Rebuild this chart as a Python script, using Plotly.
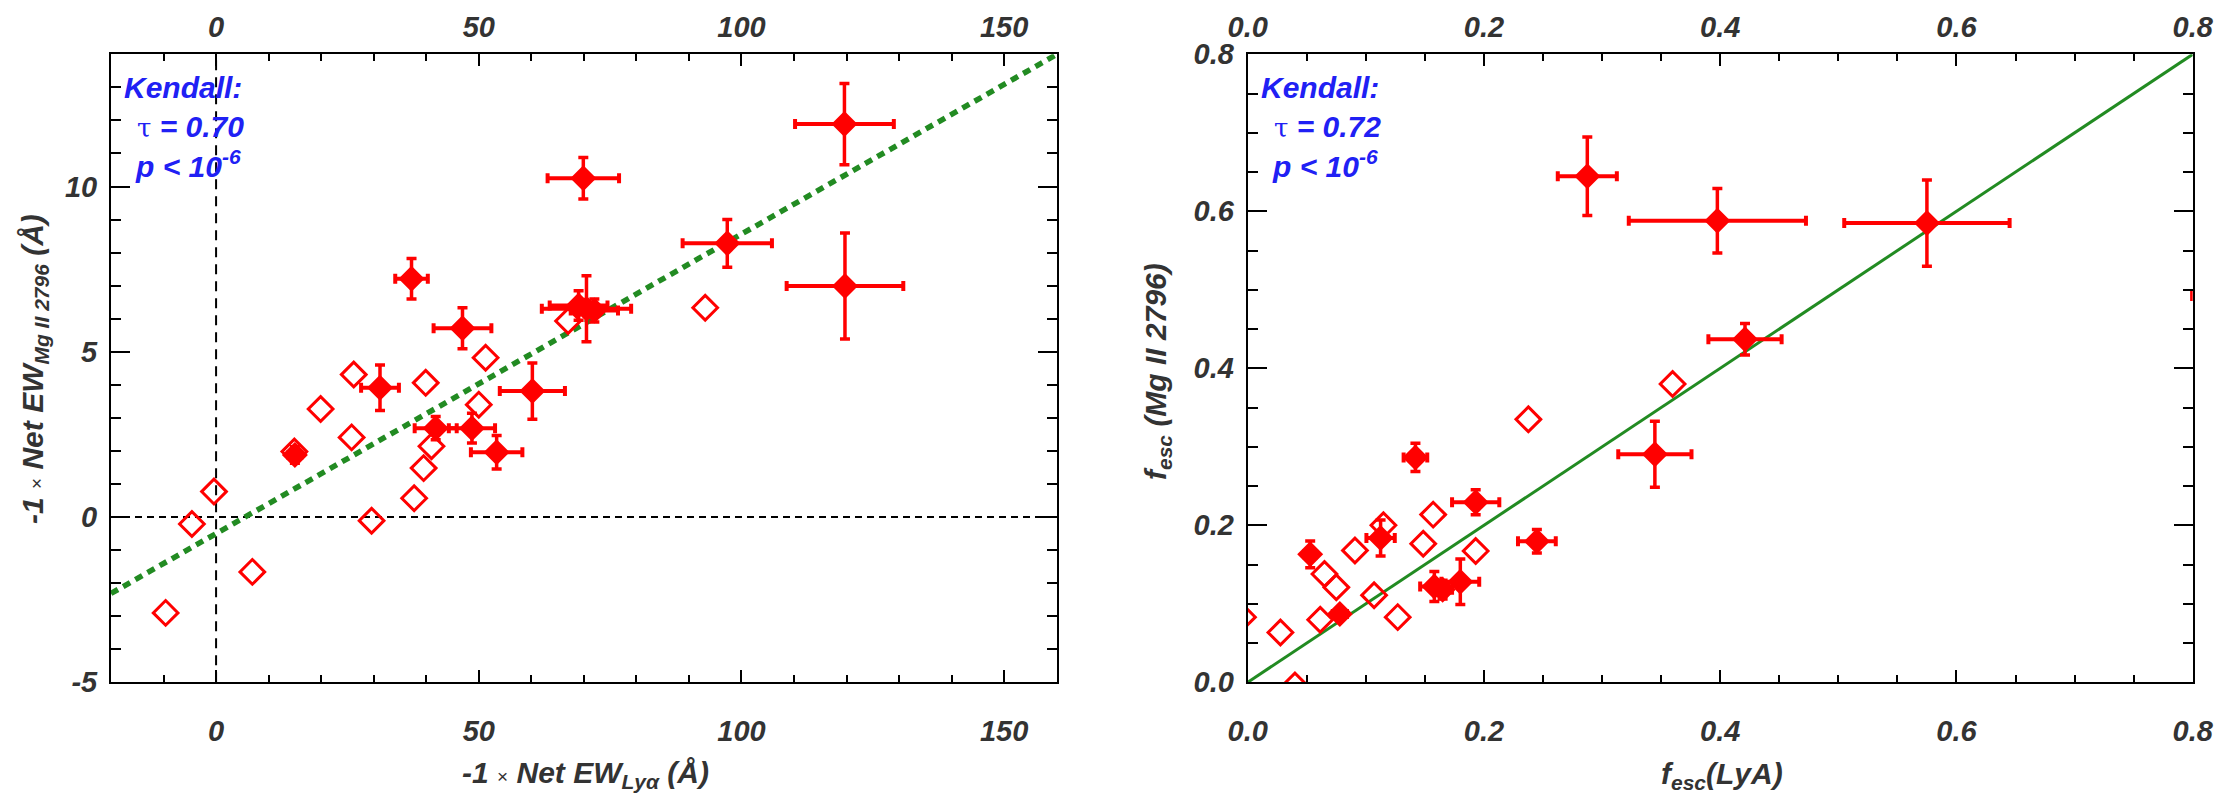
import plotly.graph_objects as go

# page is 2226x808; the html body adds an 8px margin, so the figure is 16px smaller
PAGE_W, PAGE_H = 2226, 808
OFF = 8
W, H = PAGE_W - 2 * OFF, PAGE_H - 2 * OFF

# ---------------- Left panel data: -1 x Net EW (Lya) vs -1 x Net EW (Mg II 2796)
ew_lya_open = [93.1, 67.0, 51.3, 26.2, 39.9, 19.9, 50.0, 25.8, 41.0, 39.5, 14.9, 37.7, 29.6, -0.4, -4.6, 6.9, -9.6]
ew_mg_open = [6.33, 5.93, 4.82, 4.31, 4.06, 3.27, 3.40, 2.41, 2.14, 1.48, 1.98, 0.57, -0.11, 0.77, -0.21, -1.66, -2.90]

ew_lya_fill = [119.6, 69.9, 97.3, 119.7, 37.2, 46.9, 70.5, 69.0, 72.0, 60.2, 31.2, 41.8, 48.7, 53.4, 15.0]
ew_mg_fill = [11.89, 10.25, 8.28, 6.99, 7.21, 5.71, 6.30, 6.40, 6.25, 3.81, 3.91, 2.69, 2.69, 1.96, 1.88]
ew_lya_err = [9.4, 6.8, 8.5, 11.1, 3.1, 5.5, 8.5, 5.5, 4.5, 6.2, 3.6, 4.0, 4.4, 4.9, 1.2]
ew_mg_err = [1.23, 0.63, 0.72, 1.60, 0.61, 0.62, 1.00, 0.45, 0.35, 0.85, 0.69, 0.35, 0.45, 0.51, 0.25]

fit_slope = 0.0906
fit_intercept = -0.5

left_xrange = [-20, 160]
left_yrange = [-5, 14]
left_xticks = [0, 50, 100, 150]
left_yticks = [-5, 0, 5, 10]
left_ytext = ["-5", "0", "5", "10"]
left_tau = "0.70"

# ---------------- Right panel data: f_esc(LyA) vs f_esc(Mg II 2796)
fesc_lya_open = [0.3597, 0.2376, 0.157, 0.1149, 0.1486, 0.193, 0.0908, 0.065, 0.075, 0.107, 0.127, 0.0614, 0.0277, 0.040, -0.004]
fesc_mg_open = [0.380, 0.335, 0.2136, 0.200, 0.1766, 0.1672, 0.168, 0.138, 0.121, 0.111, 0.083, 0.0796, 0.0634, -0.004, 0.083]

fesc_lya_fill = [0.2875, 0.3976, 0.575, 0.421, 0.3447, 0.142, 0.193, 0.2448, 0.1125, 0.0529, 0.158, 0.165, 0.180, 0.078, 0.87]
fesc_mg_fill = [0.6445, 0.588, 0.585, 0.437, 0.2906, 0.2864, 0.2294, 0.1796, 0.1838, 0.163, 0.122, 0.118, 0.128, 0.087, 0.492]
fesc_lya_err = [0.025, 0.075, 0.070, 0.031, 0.031, 0.010, 0.020, 0.016, 0.012, 0.005, 0.012, 0.008, 0.016, 0.006, 0.0705]
fesc_mg_err = [0.050, 0.041, 0.055, 0.020, 0.042, 0.018, 0.016, 0.015, 0.023, 0.017, 0.019, 0.012, 0.029, 0.007, 0.006]

right_xrange = [0, 0.8]
right_yrange = [0, 0.8]
right_ticks = [0.0, 0.2, 0.4, 0.6, 0.8]
right_ticktext = ["0.0", "0.2", "0.4", "0.6", "0.8"]
right_tau = "0.72"

# ---------------- Styling
RED = "#ff0000"
GREEN = "#228b22"
BLUE = "#2020f4"
TXT = "#333333"
FONT = "Liberation Sans"
TICKFONT = dict(family=FONT, size=29, color=TXT, weight="bold", style="italic")


def dx(p):
    return (p - OFF) / W


def dy(p):
    return 1 - (p - OFF) / H


dom_y = [dy(682.3), dy(54.3)]
dom_left = [dx(111), dx(1056.7)]
dom_right = [dx(1247.7), dx(2192.7)]

fig = go.Figure()


def add_panel(xa, ya, xo, yo, xf, yf, xe, ye):
    fig.add_trace(go.Scatter(
        x=xo, y=yo, mode="markers", xaxis=xa, yaxis=ya, showlegend=False,
        marker=dict(symbol="diamond-open", size=19, color=RED, line=dict(width=3, color=RED)),
    ))
    fig.add_trace(go.Scatter(
        x=xf, y=yf, mode="markers", xaxis=xa, yaxis=ya, showlegend=False,
        marker=dict(symbol="diamond", size=20, color=RED, line=dict(width=0)),
        error_x=dict(type="data", array=xe, color=RED, thickness=4, width=5),
        error_y=dict(type="data", array=ye, color=RED, thickness=3.5, width=5),
    ))


# fit line (left) and one-to-one line (right)
fit_x = list(left_xrange)
fit_y = [fit_intercept + fit_slope * v for v in fit_x]
fig.add_trace(go.Scatter(x=fit_x, y=fit_y, mode="lines", xaxis="x", yaxis="y", showlegend=False,
                         line=dict(color=GREEN, width=5.5, dash="8px,6px")))
fig.add_trace(go.Scatter(x=right_xrange, y=right_yrange, mode="lines", xaxis="x2", yaxis="y2", showlegend=False,
                         line=dict(color=GREEN, width=3)))

add_panel("x", "y", ew_lya_open, ew_mg_open, ew_lya_fill, ew_mg_fill, ew_lya_err, ew_mg_err)
add_panel("x2", "y2", fesc_lya_open, fesc_mg_open, fesc_lya_fill, fesc_mg_fill, fesc_lya_err, fesc_mg_err)

# dummy traces for top axes
fig.add_trace(go.Scatter(x=[None], y=[None], xaxis="x3", yaxis="y", showlegend=False, hoverinfo="skip"))
fig.add_trace(go.Scatter(x=[None], y=[None], xaxis="x4", yaxis="y2", showlegend=False, hoverinfo="skip"))


def xaxis_cfg(dom, rng, tickvals, ticktext, minor, side, standoff, anchor, overlay=None):
    d = dict(domain=dom, range=rng, tickmode="array", tickvals=tickvals, ticktext=ticktext,
             ticks="inside", ticklen=12, tickwidth=2,
             tickcolor="black", showline=True, linecolor="black", linewidth=2, mirror=False,
             showgrid=False, zeroline=False, side=side, anchor=anchor, tickfont=TICKFONT,
             ticklabelstandoff=standoff, automargin=False,
             minor=dict(dtick=minor, tick0=0, ticks="inside", ticklen=7, tickwidth=2, tickcolor="black",
                        showgrid=False))
    if overlay:
        d["overlaying"] = overlay
        d["matches"] = overlay
    return d


def yaxis_cfg(dom, rng, tickvals, ticktext, minor, anchor):
    d = dict(domain=dom, range=rng, tickmode="array", tickvals=tickvals, ticktext=ticktext,
             ticks="inside", ticklen=19, tickwidth=2,
             tickcolor="black", showline=True, linecolor="black", linewidth=2, mirror="ticks",
             showgrid=False, zeroline=False, anchor=anchor, tickfont=TICKFONT, ticklabelstandoff=6,
             automargin=False,
             minor=dict(dtick=minor, tick0=0, ticks="inside", ticklen=10, tickwidth=2, tickcolor="black",
                        showgrid=False))
    return d


fig.update_layout(
    width=W, height=H, margin=dict(l=0, r=0, t=0, b=0),
    paper_bgcolor="white", plot_bgcolor="white",
    xaxis=xaxis_cfg(dom_left, left_xrange, left_xticks, [str(v) for v in left_xticks], 10, "bottom", 22, "y"),
    xaxis3=xaxis_cfg(dom_left, left_xrange, left_xticks, [str(v) for v in left_xticks], 10, "top", 4, "y", overlay="x"),
    yaxis=yaxis_cfg(dom_y, left_yrange, left_yticks, left_ytext, 1, "x"),
    xaxis2=xaxis_cfg(dom_right, right_xrange, right_ticks, right_ticktext, 0.05, "bottom", 22, "y2"),
    xaxis4=xaxis_cfg(dom_right, right_xrange, right_ticks, right_ticktext, 0.05, "top", 4, "y2", overlay="x2"),
    yaxis2=yaxis_cfg(dom_y, right_yrange, right_ticks, right_ticktext, 0.05, "x2"),
)

# dashed zero lines (left panel)
fig.add_shape(type="line", xref="x", yref="y domain", x0=0, x1=0, y0=0, y1=1, layer="below",
              line=dict(color="black", width=2, dash="10px,7px"))
fig.add_shape(type="line", xref="x domain", yref="y", x0=0, x1=1, y0=0, y1=0, layer="below",
              line=dict(color="black", width=2, dash="7px,5px"))

ANNFONT = dict(family=FONT, size=30, color=BLUE, weight="bold", style="italic")
TAU = '<span style="font-family:DejaVu Serif;font-weight:normal;font-style:normal;font-size:26px">τ</span>'


def kendall(x0, tau):
    for (xp, yp), txt in zip([(x0, 88), (x0 + 13, 126), (x0 + 11, 164)],
                             ["Kendall:", f"{TAU} = {tau}", "p &lt; 10<sup>-6</sup>"]):
        fig.add_annotation(x=dx(xp), y=dy(yp), xref="paper", yref="paper", xanchor="left", yanchor="middle",
                           text=txt, showarrow=False, font=ANNFONT)


kendall(122, left_tau)
kendall(1259, right_tau)

TITLEFONT = dict(family=FONT, size=30, color=TXT, weight="bold", style="italic")
TIMES = '<span style="font-weight:normal;font-style:normal;font-size:19px">×</span>'

titles = [
    ((585, 774), 0, f"-1 {TIMES} Net EW<sub>Lyα</sub> (Å)"),
    ((34, 369), -90, f"-1 {TIMES} Net EW<sub>Mg II 2796</sub> (Å)"),
    ((1722, 775), 0, "f<sub>esc</sub>(LyA)"),
    ((1158, 372), -90, "f<sub>esc</sub> (Mg II 2796)"),
]
for (xp, yp), ang, txt in titles:
    fig.add_annotation(x=dx(xp), y=dy(yp), xref="paper", yref="paper", xanchor="center", yanchor="middle",
                       text=txt, textangle=ang, showarrow=False, font=TITLEFONT)

fig.write_html("out.html")
